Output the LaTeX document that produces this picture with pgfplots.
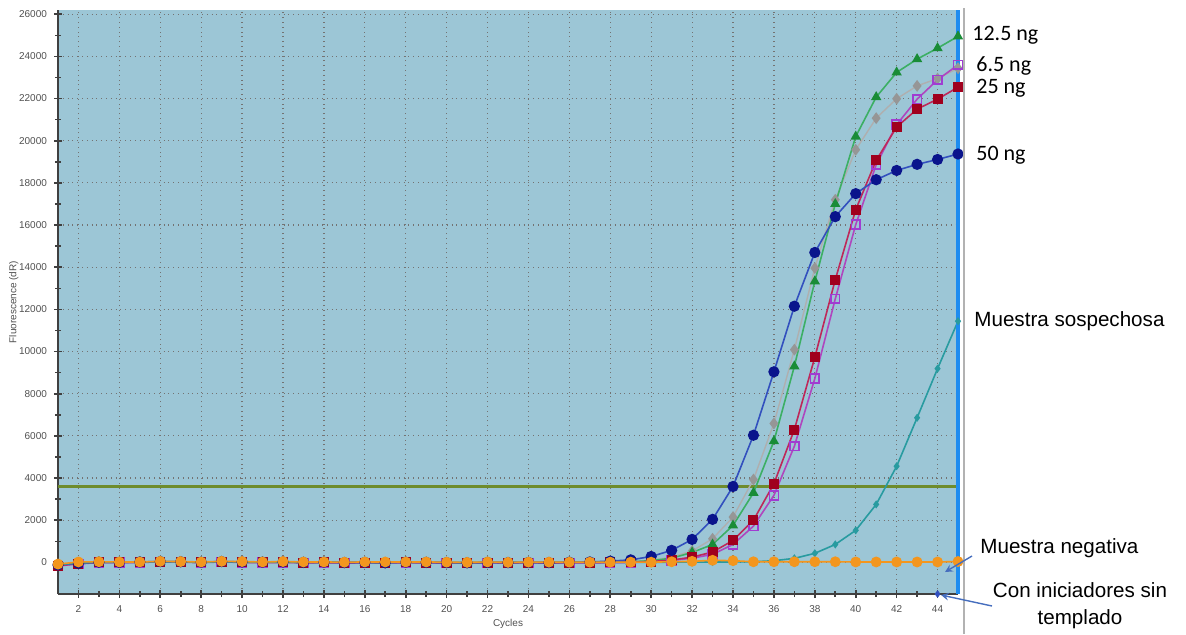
\documentclass[border=0pt]{standalone}
\usepackage{pgfplots}
\pgfplotsset{compat=1.18}
\usepackage{fontspec}
\setmainfont{Liberation Sans}
\newfontfamily\carlito{Carlito}
\definecolor{bgc}{RGB}{156,198,214}
\definecolor{thr}{RGB}{110,140,45}
\definecolor{bline}{RGB}{50,80,190}
\definecolor{bmark}{RGB}{10,20,140}
\definecolor{gline}{RGB}{60,175,100}
\definecolor{gmark}{RGB}{25,140,55}
\definecolor{grline}{RGB}{175,175,175}
\definecolor{grmark}{RGB}{150,150,150}
\definecolor{rline}{RGB}{190,40,90}
\definecolor{rmark}{RGB}{160,0,30}
\definecolor{pline}{RGB}{175,70,190}
\definecolor{pmark}{RGB}{160,60,210}
\definecolor{teal2}{RGB}{40,155,160}
\definecolor{orng}{RGB}{243,150,30}
\definecolor{arrowc}{RGB}{70,110,190}
\definecolor{edgeblue}{RGB}{30,140,240}
\definecolor{tickc}{RGB}{80,80,80}
\begin{document}
\begin{tikzpicture}
\path[use as bounding box] (0,0) rectangle (593pt,317pt);
\begin{axis}[
  at={(29pt,20pt)}, anchor=south west,
  scale only axis, width=450pt, height=292pt,
  xmin=1, xmax=45, ymin=-1500, ymax=26200,
  clip=false,
  scaled y ticks=false, scaled x ticks=false,
  axis background/.style={fill=bgc},
  axis x line*=bottom, axis y line*=left,
  axis line style={draw=black!75, line width=1pt, -},
  xtick={2,4,...,44}, ytick={0,2000,...,26000},
  minor x tick num=1, minor y tick num=1,
  tick align=center, major tick length=4pt, minor tick length=3pt,
  tick style={black!75, line width=0.8pt},
  grid=major,
  grid style={black!55, dotted, line width=0.6pt},
  /pgf/number format/assume math mode=true,
  /pgf/number format/1000 sep={},
  ticklabel style={font=\fontsize{5}{6}\selectfont, text=tickc},
  xticklabel style={anchor=north, text height=3.6pt, text depth=0pt},
  label style={font=\fontsize{5}{6}\selectfont, text=tickc},
  xlabel={Cycles}, ylabel={Fluorescence (dR)},
  xlabel style={at={(axis description cs:0.5,-0.052)}, anchor=center},
  ylabel style={at={(axis description cs:-0.049,0.5)}, anchor=center},
]
% threshold
\addplot[thr, line width=1.4pt] coordinates {(1,3600) (45,3600)};
% gray diamonds
\addplot[grline, line width=0.7pt, mark=diamond*, mark size=2.4pt, mark options={draw=grmark, fill=grmark}] coordinates {
(1,-130)(2,-50)(3,0)(4,10)(5,20)(6,40)(7,30)(8,10)(9,40)(10,20)(11,10)(12,20)(13,0)(14,10)(15,-10)(16,0)(17,-20)(18,10)(19,0)(20,-10)(21,-20)(22,0)(23,-10)(24,0)(25,-10)(26,10)(27,10)(28,20)(29,40)(30,110)(31,250)(32,540)(33,1120)(34,2150)(35,3930)(36,6590)(37,10090)(38,13960)(39,17200)(40,19570)(41,21070)(42,21990)(43,22600)(44,22950)(45,23440)};
% green triangles 12.5 ng
\addplot[gline, line width=0.8pt, mark=triangle*, mark size=2.2pt, mark options={draw=gmark, fill=gmark}] coordinates {
(1,-140)(2,-40)(3,10)(4,0)(5,10)(6,30)(7,20)(8,0)(9,30)(10,10)(11,0)(12,10)(13,-10)(14,0)(15,-20)(16,-10)(17,-20)(18,0)(19,-10)(20,-20)(21,-30)(22,-10)(23,-20)(24,-10)(25,-20)(26,0)(27,0)(28,10)(29,30)(30,80)(31,200)(32,470)(33,850)(34,1750)(35,3300)(36,5750)(37,9300)(38,13330)(39,17000)(40,20200)(41,22070)(42,23240)(43,23870)(44,24390)(45,24950)};
% purple open squares 6.5 ng
\addplot[pline, line width=0.8pt, mark=square, mark size=2.2pt, mark options={draw=pmark, fill=none, line width=0.8pt}] coordinates {
(1,-170)(2,-70)(3,-10)(4,-10)(5,0)(6,20)(7,10)(8,-10)(9,20)(10,0)(11,-10)(12,0)(13,-20)(14,-10)(15,-30)(16,-20)(17,-30)(18,-10)(19,-20)(20,-30)(21,-40)(22,-20)(23,-30)(24,-20)(25,-30)(26,-20)(27,-20)(28,-10)(29,0)(30,30)(31,90)(32,200)(33,380)(34,850)(35,1720)(36,3180)(37,5510)(38,8720)(39,12500)(40,16020)(41,18860)(42,20760)(43,21970)(44,22890)(45,23600)};
% red squares 25 ng
\addplot[rline, line width=0.8pt, mark=square*, mark size=2.1pt, mark options={draw=rmark, fill=rmark}] coordinates {
(1,-150)(2,-60)(3,0)(4,0)(5,10)(6,30)(7,20)(8,0)(9,30)(10,10)(11,0)(12,10)(13,-10)(14,0)(15,-20)(16,-10)(17,-20)(18,0)(19,-10)(20,-20)(21,-30)(22,-10)(23,-20)(24,-10)(25,-20)(26,-10)(27,-10)(28,0)(29,10)(30,40)(31,110)(32,250)(33,490)(34,1040)(35,2000)(36,3730)(37,6300)(38,9730)(39,13410)(40,16730)(41,19070)(42,20650)(43,21500)(44,21970)(45,22540)};
% blue circles 50 ng
\addplot[bline, line width=0.8pt, mark=*, mark size=2.4pt, mark options={draw=bmark, fill=bmark}] coordinates {
(1,-120)(2,-40)(3,10)(4,0)(5,20)(6,40)(7,30)(8,10)(9,40)(10,20)(11,10)(12,20)(13,0)(14,10)(15,-10)(16,0)(17,-20)(18,10)(19,0)(20,-10)(21,-20)(22,0)(23,-10)(24,0)(25,-10)(26,10)(27,20)(28,60)(29,120)(30,280)(31,570)(32,1090)(33,2040)(34,3600)(35,6030)(36,9040)(37,12150)(38,14700)(39,16400)(40,17490)(41,18150)(42,18590)(43,18880)(44,19110)(45,19370)};
% teal: muestra sospechosa
\addplot[teal2, line width=0.8pt, mark=diamond*, mark size=1.4pt, mark options={draw=teal2, fill=teal2}] coordinates {
(1,-100)(2,-30)(3,10)(4,10)(5,20)(6,30)(7,30)(8,10)(9,30)(10,20)(11,10)(12,20)(13,0)(14,10)(15,0)(16,0)(17,-10)(18,10)(19,0)(20,0)(21,-10)(22,0)(23,0)(24,0)(25,0)(26,0)(27,0)(28,0)(29,0)(30,0)(31,10)(32,10)(33,20)(34,20)(35,30)(36,80)(37,190)(38,430)(39,850)(40,1520)(41,2750)(42,4560)(43,6860)(44,9190)(45,11440)};
% orange: muestra negativa
\addplot[orng, line width=0.8pt, mark=*, mark size=2.3pt, mark options={draw=orng, fill=orng}] coordinates {
(1,-80)(2,20)(3,30)(4,20)(5,20)(6,50)(7,40)(8,20)(9,50)(10,40)(11,20)(12,40)(13,20)(14,20)(15,10)(16,20)(17,20)(18,20)(19,20)(20,10)(21,0)(22,20)(23,0)(24,10)(25,10)(26,10)(27,10)(28,10)(29,10)(30,10)(31,30)(32,50)(33,100)(34,80)(35,30)(36,30)(37,30)(38,30)(39,30)(40,20)(41,20)(42,20)(43,20)(44,20)(45,40)};
% con iniciadores sin templado
\addplot[only marks, mark=diamond*, mark size=1.6pt, color=bline] coordinates {(44,-1500)};
% right blue edge
\draw[edgeblue, line width=1.6pt] (rel axis cs:1,0) -- (rel axis cs:1,1);
\end{axis}
\draw[black!30, line width=0.6pt] (482pt,0pt) -- (482pt,313pt);
\node[anchor=west, font=\carlito\fontsize{11}{13}\selectfont, inner sep=0pt] at (486pt,299.5pt) {12.5 ng};
\node[anchor=west, font=\carlito\fontsize{11}{13}\selectfont, inner sep=0pt] at (488pt,284pt) {6.5 ng};
\node[anchor=west, font=\carlito\fontsize{11}{13}\selectfont, inner sep=0pt] at (488pt,273pt) {25 ng};
\node[anchor=west, font=\carlito\fontsize{11}{13}\selectfont, inner sep=0pt] at (488pt,239.5pt) {50 ng};
\node[anchor=west, font=\fontsize{10.3}{12}\selectfont, inner sep=0pt] at (487pt,156.5pt) {Muestra sospechosa};
\node[anchor=west, font=\fontsize{10.3}{12}\selectfont, inner sep=0pt] at (490pt,43pt) {Muestra negativa};
\node[align=center, font=\fontsize{10.3}{13.5}\selectfont, inner sep=0pt] at (540pt,14pt) {Con iniciadores sin\\templado};
\draw[arrowc, line width=0.7pt, -stealth] (486pt,39pt) -- (472.5pt,31pt);
\draw[arrowc, line width=0.7pt, -stealth] (496pt,14pt) -- (470.5pt,19.5pt);
\end{tikzpicture}
\end{document}
